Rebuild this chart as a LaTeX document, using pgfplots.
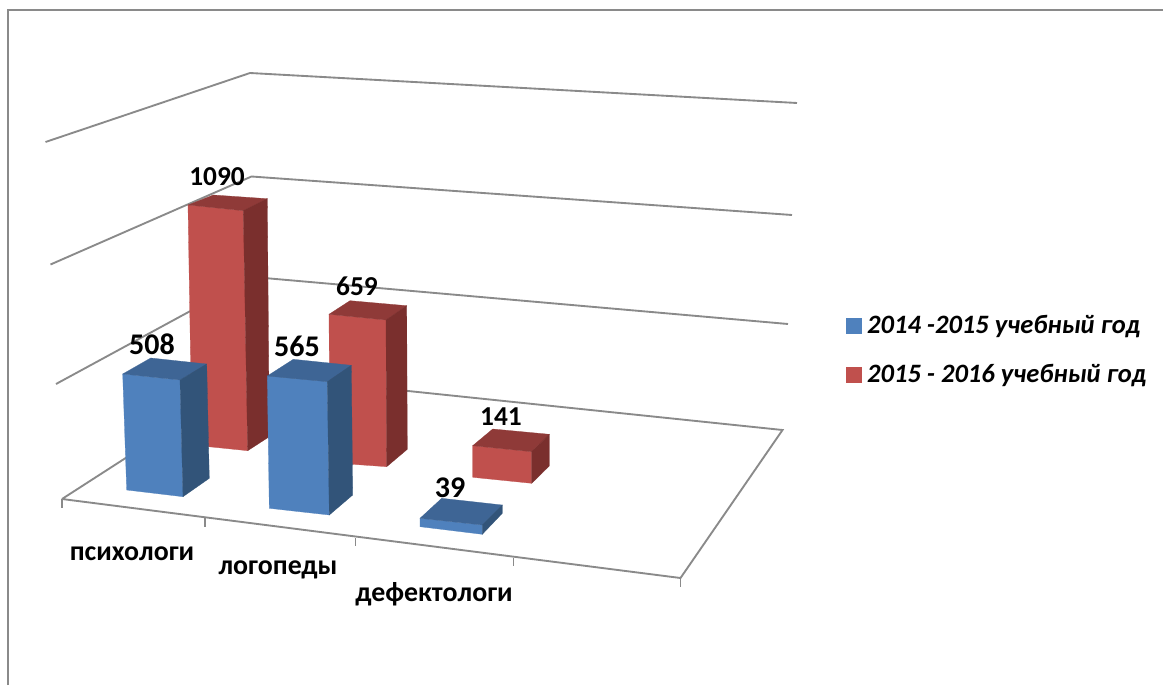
\documentclass[border=0pt]{standalone}
\usepackage{pgfplots}
\pgfplotsset{compat=1.18}
\usepackage{fontspec}
\setmainfont{Carlito}
\definecolor{bf}{HTML}{4F81BD}\definecolor{bt}{HTML}{3E6595}\definecolor{bs}{HTML}{325479}
\definecolor{rf}{HTML}{C0504D}\definecolor{rt}{HTML}{8F3A38}\definecolor{rs}{HTML}{7A2F2D}
\definecolor{gl}{HTML}{8A8A8A}
% #1 front colour, #2 top colour, #3 side colour; TL TR BR BL of the front, then back top-left, back top-right, back bottom-right
\newcommand\drawbar[9]{%
  \addplot[fill=#1,draw=#1,line width=0.2pt,forget plot] coordinates {#4 #5 #6 #7} -- cycle;
  \addplot[fill=#2,draw=#2,line width=0.2pt,forget plot] coordinates {#4 #8 #9 #5} -- cycle;
  \drawbarside{#3}{#5}{#9}{#6}}
\newcommand\drawbarside[4]{\def\sidecolor{#1}\def\sidea{#2}\def\sideb{#3}\def\sidec{#4}\drawbarsideb}
\newcommand\drawbarsideb[1]{%
  \edef\tmp{\noexpand\addplot[fill=\sidecolor,draw=\sidecolor,line width=0.2pt,forget plot] coordinates {\sidea\space\sideb\space#1\space\sidec} -- cycle;}\tmp}
\begin{document}
\begin{tikzpicture}
\begin{axis}[
  width=872.25pt,height=513.75pt,scale only axis,
  xmin=0,xmax=1163,ymin=0,ymax=685,y dir=reverse,
  axis lines=none,clip=true,
  legend style={draw=none,fill=none,anchor=west,
    font=\fontsize{19.9pt}{21pt}\selectfont\bfseries\itshape,
    /tikz/every even column/.style={column sep=0pt},
    row sep=17.5pt,inner xsep=0pt,inner ysep=0pt,
    legend cell align=left,cells={anchor=west}},
  legend style={at={(axis cs:846,350)}},
  legend image code/.code={\fill[#1] (0pt,-5.6pt) rectangle (11.25pt,5.6pt);},
]
% page frame
\addplot[fill=white,draw=none,forget plot] coordinates {(0,0)(1163,0)(1163,685)(0,685)} -- cycle;
\addplot[gl,line width=1.5pt,forget plot] coordinates {(8,685)(8,10)(1163,10)};
% back wall and side wall gridlines
\addplot[gl,line width=1.4pt,forget plot] coordinates {(45.5,142)(250,73)(797,103)};
\addplot[gl,line width=1.4pt,forget plot] coordinates {(50.5,264.5)(251.5,176.5)(792,215)};
\addplot[gl,line width=1.4pt,forget plot] coordinates {(56,384)(253,277)(788,324)};
% floor
\addplot[gl,line width=1.4pt,forget plot] coordinates {(62,499)(254.5,375)(782.5,430)(680.5,578)(62,499)};
% ticks
\addplot[gl,line width=1.4pt,forget plot] coordinates {(62,499)(62,508)};
\addplot[gl,line width=1.4pt,forget plot] coordinates {(205,518)(205,527)};
\addplot[gl,line width=1.4pt,forget plot] coordinates {(355.5,538)(355.5,546)};
\addplot[gl,line width=1.4pt,forget plot] coordinates {(513.5,558)(513.5,566)};
\addplot[gl,line width=1.4pt,forget plot] coordinates {(680.5,578)(680.5,587)};
% red series: 1090, 659, 141
\drawbar{rf}{rt}{rs}{(188,205)}{(243.3,210.7)}{(247.7,450.7)}{(192,445)}{(213.3,195)}{(267.3,198.7)}{(269.3,436.7)}
\drawbar{rf}{rt}{rs}{(329,314.3)}{(386,320)}{(386.7,466.7)}{(330,462.7)}{(350,300.7)}{(406.7,305.7)}{(407.3,449.3)}
\drawbar{rf}{rt}{rs}{(472.7,445.7)}{(531.7,451.7)}{(531.7,483.3)}{(472.7,477.3)}{(492.7,429)}{(549.3,434.3)}{(549.3,466)}
% blue series: 508, 565, 39
\drawbar{bf}{bt}{bs}{(122.7,374)}{(180,380)}{(183,496.7)}{(126.7,490)}{(150.7,358)}{(206.7,364)}{(209.3,478.3)}
\drawbar{bf}{bt}{bs}{(267.3,376)}{(327.3,381.7)}{(329.3,515)}{(269.3,508.3)}{(293.3,359.3)}{(351.3,365.3)}{(352.7,495)}
\drawbar{bf}{bt}{bs}{(420,518.3)}{(482.3,525)}{(482.3,534.3)}{(420,526.7)}{(441.7,498.3)}{(502.3,505)}{(502.3,513.3)}
% data labels
\begin{scope}[every node/.style={font=\fontsize{20.5pt}{22pt}\selectfont\bfseries,inner sep=0pt,anchor=center}]
\node at (axis cs:217,177) {1090};
\node at (axis cs:357,286) {659};
\node at (axis cs:501,417) {141};
\end{scope}
\begin{scope}[every node/.style={font=\fontsize{22.5pt}{24pt}\selectfont\bfseries,inner sep=0pt,anchor=center}]
\node at (axis cs:152,344) {508};
\node at (axis cs:297,346) {565};
\node at (axis cs:450,488) {39};
\end{scope}
\begin{scope}[every node/.style={font=\fontsize{20.9pt}{23pt}\selectfont\bfseries,inner sep=0pt,anchor=center}]
\node at (axis cs:132,554) {психологи};
\node at (axis cs:278,570) {логопеды};
\node at (axis cs:434,594) {дефектологи};
\end{scope}
\addlegendimage{bf}\addlegendentry{\hspace{2pt}2014 -2015 учебный год}
\addlegendimage{rf}\addlegendentry{\hspace{2pt}2015 - 2016 учебный год}
\end{axis}
\end{tikzpicture}
\end{document}
